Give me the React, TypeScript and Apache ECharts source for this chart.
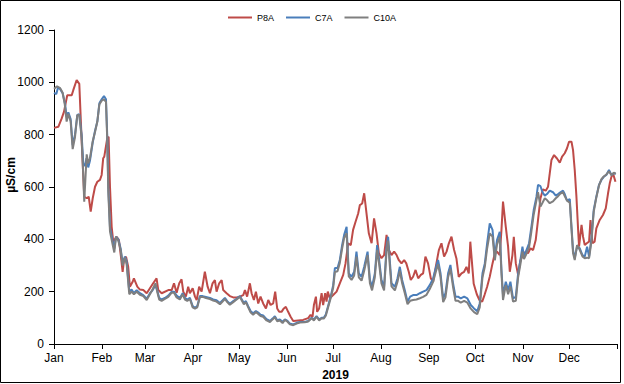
import React, { useEffect, useRef } from "react";
import * as echarts from "echarts";

// x = day of year 2019 (0 = Jan 1), y = conductivity µS/cm
const MONTH_STARTS = [0, 31, 59, 90, 120, 151, 181, 212, 243, 273, 304, 334];
const MONTH_NAMES = ["Jan", "Feb", "Mar", "Apr", "May", "Jun", "Jul", "Aug", "Sep", "Oct", "Nov", "Dec"];
const YEAR_END = 365;
const Y_MIN = 0;
const Y_MAX = 1200;
const Y_STEP = 200;
const SERIES_NAMES = ["P8A", "C7A", "C10A"];
const X_TITLE = "2019";
const Y_TITLE = "µS/cm";

const P8A: [number, number][] = [
  [0, 826], [2.8, 830], [5, 862], [6.5, 888], [8.6, 951], [11.5, 951], [12.5, 970], [14.7, 1009], [16.4, 994],
  [18, 768], [19.6, 563], [21.2, 557], [22.5, 563], [23.8, 506], [25.1, 557], [26.6, 601], [28.1, 620], [29.8, 627],
  [30.9, 646], [31.9, 710], [32.6, 716], [34.5, 786], [35.4, 792], [36.3, 601], [37.4, 448], [38.4, 391], [40.6, 410],
  [42.1, 397], [43.4, 334], [44.5, 276], [45.4, 321], [46.7, 334], [48.1, 295], [49.2, 219], [51, 238], [51.8, 251],
  [54, 219], [55.7, 208], [57.9, 206], [60.1, 194], [62.2, 213], [64.3, 232], [66.5, 251], [67.6, 206], [69.8, 194],
  [74.1, 206], [76.3, 206], [77.8, 232], [79.5, 196], [81.2, 232], [82.7, 247], [83.8, 200], [85.5, 181], [87, 219],
  [88.1, 194], [89.9, 213], [91.4, 181], [92.5, 168], [94.1, 219], [95.7, 200], [97.8, 276], [99.6, 219], [101.1, 194],
  [102.8, 232], [104.3, 244], [105.4, 200], [107.1, 232], [108.7, 244], [109.7, 206], [111.9, 194], [114, 183],
  [116.2, 178], [118.4, 178], [120.5, 181], [122.7, 187], [123.8, 206], [125.2, 181], [127, 232], [128.1, 194],
  [129.6, 168], [130.9, 200], [132.4, 155], [133.9, 181], [135.6, 155], [137.4, 136], [138.9, 168], [140.4, 149],
  [142.1, 155], [143.4, 200], [144.7, 136], [146, 123], [147.5, 123], [149, 136], [150.3, 142], [151.8, 123],
  [153.4, 104], [155.1, 88], [158.3, 90], [161.5, 92], [164.8, 99], [166.3, 111], [167.6, 104], [168.5, 149],
  [169.8, 181], [170.6, 123], [171.9, 136], [173.5, 194], [174.5, 149], [175.8, 194], [176.7, 162], [177.5, 200],
  [178.8, 175], [181, 187], [183.2, 200], [185.3, 232], [187.5, 264], [189, 308], [190.7, 385], [192.4, 378],
  [193.9, 436], [195.5, 467], [197.2, 499], [198.3, 531], [199.8, 537], [201.1, 576], [202.6, 499], [204.1, 423],
  [205.9, 385], [207.5, 480], [209.1, 423], [210.6, 347], [212.3, 328], [214, 340], [215.6, 417], [217.1, 359],
  [218.8, 340], [220.5, 353], [222.1, 340], [223.5, 321], [225.3, 308], [227, 321], [228.4, 308], [230, 276],
  [231.3, 245], [232.8, 257], [234.4, 283], [236.1, 251], [237.8, 264], [239.3, 270], [240.8, 334], [242.5, 308],
  [244.3, 251], [245.8, 238], [247.5, 295], [249.5, 359], [251.2, 385], [252.9, 334], [254.5, 353], [256, 385],
  [257.7, 410], [259.4, 359], [260.9, 327], [262.4, 257], [264.2, 270], [265.9, 276], [267.4, 295], [268.9, 270],
  [269.9, 391], [271.2, 295], [272.1, 230], [274.1, 190], [275.8, 168], [277.6, 162], [279.1, 187], [280.8, 219],
  [282.5, 257], [284.3, 308], [285.8, 347], [287.2, 353], [289, 340], [290.1, 436], [291.1, 544], [292.9, 448],
  [294.4, 372], [295.5, 276], [297.2, 340], [298.1, 410], [299.4, 308], [300.9, 264], [302.4, 321], [304.1, 340],
  [305.8, 353], [307.3, 347], [308.9, 366], [310.6, 359], [312.3, 397], [313.8, 474], [315.4, 557], [317, 591],
  [318.8, 586], [320.3, 601], [321.4, 652], [322.5, 703], [324.2, 722], [326.1, 709], [327.9, 693], [329.4, 716],
  [331.1, 729], [332.6, 748], [333.9, 773], [335.5, 773], [336.5, 741], [337.6, 665], [338.7, 563], [339.8, 436],
  [340.4, 372], [342, 455], [343, 410], [344.1, 378], [345.4, 385], [346.9, 391], [347.8, 474], [349.1, 385],
  [350.5, 391], [351.6, 442], [353.8, 474], [355.9, 493], [357.7, 518], [359.2, 576], [360.3, 614], [361.4, 639],
  [362.4, 652], [364, 620],
];

const C7A: [number, number][] = [
  [0, 960], [1.5, 955], [2.6, 980], [3.9, 975], [5.6, 958], [7.1, 920], [8.2, 870], [9.3, 885], [10.8, 860],
  [12.1, 760], [13.6, 800], [15.1, 875], [16.4, 878], [17.9, 800], [19, 690], [20.1, 680], [21.1, 710], [22.2, 675],
  [23.3, 700], [25.1, 770], [26.6, 815], [28.1, 850], [29.4, 920], [30.9, 935], [32.4, 948], [33.7, 935], [34.5, 800],
  [35.2, 600], [36.3, 445], [38, 395], [39.1, 365], [40.2, 410], [41.7, 400], [43.2, 365], [44.5, 310], [46, 334],
  [47.1, 315], [48.8, 200], [50.3, 208], [51.8, 195], [53.6, 206], [55.7, 194], [57.9, 187], [60.1, 173], [62.2, 194],
  [64, 206], [65.8, 225], [66.9, 206], [68.2, 176], [69.8, 170], [71.9, 176], [74.1, 185], [76.3, 200], [77.8, 200],
  [79.5, 185], [81.6, 176], [83.4, 194], [84.9, 176], [86.4, 170], [88.1, 176], [89.9, 145], [91.4, 138], [92.9, 145],
  [94.6, 183], [96.4, 183], [98.5, 180], [101.1, 176], [103.2, 170], [105.4, 167], [107.6, 157], [110.8, 176],
  [112.3, 164], [114, 154], [116.2, 164], [118.4, 173], [120.5, 183], [123.1, 157], [124.4, 164], [125.9, 145],
  [127.5, 125], [129.1, 117], [130.9, 126], [132.4, 120], [133.9, 112], [135.6, 109], [137.8, 95], [140, 88],
  [141.7, 97], [143.2, 106], [144.7, 91], [146.4, 94], [148.2, 85], [149.7, 94], [151.4, 88], [152.9, 78], [155.1, 75],
  [157.3, 81], [159.4, 84], [162.6, 84], [164.8, 88], [167, 100], [168.5, 94], [170.2, 106], [171.9, 94], [173.5, 100],
  [174.9, 100], [176.2, 113], [177.7, 145], [179.5, 185], [181, 225], [182.1, 290], [183.8, 290], [185.3, 321],
  [186.8, 378], [188.1, 417], [189.7, 448], [191.1, 270], [192.9, 257], [194.6, 276], [196.1, 353], [197.6, 270],
  [199.4, 257], [201.1, 295], [203.3, 353], [204.8, 245], [206.2, 219], [208, 270], [209.5, 378], [210.8, 321],
  [212.3, 245], [214, 219], [215.6, 372], [216.6, 410], [217.7, 320], [218.8, 232], [221, 219], [222.7, 251],
  [224.2, 295], [225.7, 245], [227.4, 206], [229.2, 162], [230.9, 181], [232.8, 187], [235, 187], [237.2, 194],
  [239.3, 200], [241.5, 206], [243.6, 225], [245.8, 251], [247.5, 289], [249, 321], [250.6, 270], [252.3, 174],
  [253.8, 194], [255.5, 270], [257, 302], [258.7, 232], [260.3, 181], [262, 181], [263.7, 174], [265.9, 181],
  [268, 174], [270.2, 149], [272.3, 136], [274.4, 125], [276, 155], [277.8, 270], [279.3, 308], [280.8, 385],
  [282.5, 461], [284.3, 436], [285.8, 334], [287.2, 397], [289, 429], [290.1, 283], [291.1, 187], [292.9, 238],
  [294.4, 206], [295.9, 238], [297.6, 174], [299.4, 181], [300.9, 270], [302.4, 321], [303.7, 372], [304.7, 334],
  [306.3, 359], [308, 385], [309.5, 448], [311, 512], [312.8, 563], [313.8, 608], [315.4, 603], [316.7, 580],
  [318.2, 567], [319.6, 573], [321.4, 586], [323.5, 580], [325.3, 567], [326.8, 573], [328.3, 580], [330, 586],
  [331.1, 573], [332.6, 548], [334.4, 554], [335.5, 448], [336.5, 359], [337.6, 328], [339.1, 372], [340.8, 366],
  [342.6, 340], [344.1, 334], [345.6, 372], [346.9, 334], [348.4, 404], [349.9, 512], [351.6, 563], [353.3, 608],
  [354.9, 627], [356.4, 639], [358.1, 646], [359.8, 665], [361.4, 646], [362.9, 652], [364.2, 652],
];

const C10A: [number, number][] = [
  [0, 975], [2, 985], [4, 978], [5.6, 960], [7, 915], [8.2, 850], [9.3, 880], [10.8, 850], [12.1, 745], [13.6, 790],
  [15.1, 875], [16.4, 875], [17.9, 790], [19, 640], [19.6, 544], [21.2, 725], [22.2, 690], [23.3, 710], [25.1, 775],
  [26.6, 810], [28.1, 850], [29.4, 915], [30.9, 930], [32.4, 935], [33.7, 925], [34.5, 780], [35.2, 580], [36.3, 430],
  [38, 380], [39.1, 350], [40.2, 410], [41.7, 395], [43.2, 360], [44.5, 300], [46, 330], [47.1, 305], [48.8, 190],
  [50.3, 200], [51.8, 190], [53.6, 200], [55.7, 188], [57.9, 183], [60.1, 168], [62.2, 190], [64, 210], [65.8, 232],
  [66.9, 200], [68.2, 170], [69.8, 165], [71.9, 172], [74.1, 180], [76.3, 196], [77.8, 196], [79.5, 178], [81.6, 170],
  [83.4, 190], [84.9, 170], [86.4, 165], [88.1, 172], [89.9, 140], [91.4, 135], [92.9, 140], [94.6, 180], [96.4, 180],
  [98.5, 176], [101.1, 172], [103.2, 166], [105.4, 162], [107.6, 152], [110.8, 172], [112.3, 160], [114, 150],
  [116.2, 160], [118.4, 170], [120.5, 180], [123.1, 152], [124.4, 160], [125.9, 140], [127.5, 120], [129.1, 112],
  [130.9, 122], [132.4, 115], [133.9, 107], [135.6, 104], [137.8, 90], [140, 84], [141.7, 94], [143.2, 102],
  [144.7, 87], [146.4, 90], [148.2, 80], [149.7, 92], [151.4, 85], [152.9, 75], [155.1, 72], [157.3, 78], [159.4, 82],
  [162.6, 83], [164.8, 86], [167, 98], [168.5, 90], [170.2, 104], [171.9, 90], [173.5, 98], [174.9, 97], [176.2, 108],
  [177.7, 140], [179.5, 178], [181, 215], [182.1, 275], [183.8, 278], [185.3, 310], [186.8, 365], [188.1, 405],
  [189.7, 423], [191.1, 258], [192.9, 245], [194.6, 262], [196.1, 334], [197.6, 255], [199.4, 242], [201.1, 280],
  [203.3, 340], [204.8, 232], [206.2, 205], [208, 255], [209.5, 360], [210.8, 305], [212.3, 232], [214, 205],
  [215.6, 355], [216.6, 395], [217.7, 300], [218.8, 220], [221, 205], [222.7, 238], [224.2, 280], [225.7, 232],
  [227.4, 195], [229.2, 152], [230.9, 165], [232.8, 168], [235, 170], [237.2, 175], [239.3, 180], [241.5, 188],
  [243.6, 210], [245.8, 238], [247.5, 275], [249, 305], [250.6, 255], [252.3, 160], [253.8, 178], [255.5, 255],
  [257, 288], [258.7, 218], [260.3, 165], [262, 165], [263.7, 158], [265.9, 165], [268, 158], [270.2, 135],
  [272.3, 122], [274.4, 114], [276, 140], [277.8, 255], [279.3, 295], [280.8, 365], [282.5, 423], [284.3, 410],
  [285.8, 320], [287.2, 380], [289, 410], [290.1, 270], [291.1, 168], [292.9, 225], [294.4, 190], [295.9, 220],
  [297.6, 162], [299.4, 165], [300.9, 255], [302.4, 305], [303.7, 353], [304.7, 325], [306.3, 345], [308, 370],
  [309.5, 430], [311, 495], [312.8, 550], [313.8, 580], [315.4, 525], [316.7, 540], [318.2, 557], [319.6, 550],
  [321.4, 538], [323.5, 545], [325.3, 557], [326.8, 565], [328.3, 575], [330, 580], [331.1, 565], [332.6, 548],
  [334.4, 540], [335.5, 440], [336.5, 347], [337.6, 321], [339.1, 378], [340.8, 360], [342.6, 335], [344.1, 328],
  [345.6, 330], [346.9, 328], [348.4, 390], [349.9, 505], [351.6, 560], [353.3, 605], [354.9, 630], [356.4, 640],
  [358.1, 648], [359.8, 660], [361.4, 645], [362.9, 655], [364.2, 650],
];

const COLORS = ["#BE4B48", "#4A7EBB", "#7F7F7F"];
const FONT = "Arial, 'Liberation Sans', sans-serif";

export default function App() {
  const ref = useRef<HTMLDivElement>(null);
  useEffect(() => {
    if (!ref.current) return;
    const chart = echarts.init(ref.current, null, { renderer: "svg" });
    const seriesData = [P8A, C7A, C10A];
    chart.setOption({
      animation: false,
      backgroundColor: "#ffffff",
      textStyle: { fontFamily: FONT },
      graphic: [
        {
          type: "rect",
          shape: { x: 0.5, y: 0.5, width: 620, height: 382 },
          style: { fill: "none", stroke: "#000", lineWidth: 1 },
          silent: true,
        },
      ],
      legend: {
        data: SERIES_NAMES,
        top: 8,
        left: "center",
        icon: "rect",
        itemWidth: 24,
        itemHeight: 2,
        itemGap: 12,
        textStyle: { fontSize: 9, color: "#000", fontFamily: FONT },
      },
      grid: { left: 54, right: 7, top: 30, bottom: 40, containLabel: false, outerBoundsMode: "none" },
      xAxis: {
        type: "value",
        min: 0,
        max: YEAR_END,
        name: X_TITLE,
        nameLocation: "middle",
        nameGap: 25,
        nameMoveOverlap: false,
        nameTextStyle: { fontSize: 12, fontWeight: "bold", color: "#000", fontFamily: FONT },
        splitLine: { show: false },
        axisLine: { lineStyle: { color: "#000", width: 1 } },
        axisTick: {
          show: true,
          length: 5,
          lineStyle: { color: "#000" },
          customValues: [...MONTH_STARTS, YEAR_END],
        },
        axisLabel: {
          fontSize: 12,
          color: "#000",
          margin: 8,
          fontFamily: FONT,
          customValues: MONTH_STARTS,
          formatter: (v: number) => {
            const i = MONTH_STARTS.indexOf(Math.round(v));
            return i >= 0 ? MONTH_NAMES[i] : "";
          },
        },
      },
      yAxis: {
        type: "value",
        min: Y_MIN,
        max: Y_MAX,
        interval: Y_STEP,
        name: Y_TITLE,
        nameLocation: "middle",
        nameGap: 37,
        nameMoveOverlap: false,
        nameRotate: 90,
        nameTextStyle: {
          fontSize: 12,
          fontWeight: "bold",
          color: "#000",
          fontFamily: FONT,
          padding: [0, 0, 0, 24],
        },
        splitLine: { show: false },
        axisLine: { show: true, lineStyle: { color: "#000", width: 1 } },
        axisTick: { show: true, length: 5, lineStyle: { color: "#000" } },
        axisLabel: {
          fontSize: 12,
          color: "#000",
          margin: 10,
          fontFamily: FONT,
          formatter: (v: number) => String(v),
        },
      },
      series: SERIES_NAMES.map((name, i) => ({
        name,
        type: "line",
        data: seriesData[i],
        symbol: "none",
        showSymbol: false,
        color: COLORS[i],
        lineStyle: { width: 2, color: COLORS[i] },
        z: 2 + i,
      })),
    });
    return () => chart.dispose();
  }, []);
  return (
    <div
      ref={ref}
      style={{ position: "fixed", left: 0, top: 0, width: 624, height: 384, background: "#fff" }}
    />
  );
}
